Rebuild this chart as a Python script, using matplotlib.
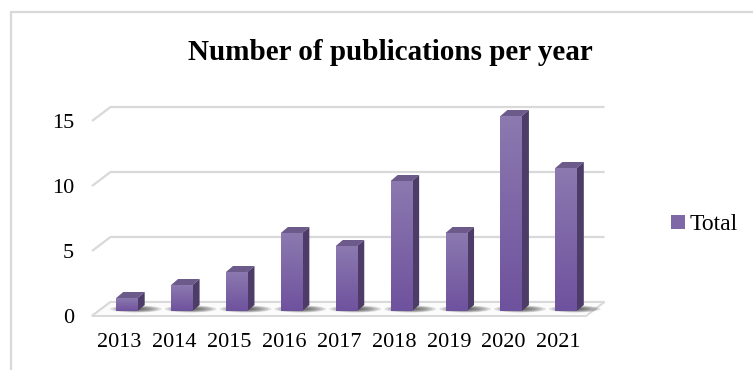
"""Number of publications per year - 3D-looking column chart."""
import numpy as np
import matplotlib
matplotlib.use("Agg")
import matplotlib.pyplot as plt
from matplotlib.patches import Polygon, Rectangle, Ellipse
from matplotlib.colors import LinearSegmentedColormap

years = ["2013", "2014", "2015", "2016", "2017", "2018", "2019", "2020", "2021"]
total = [1, 2, 3, 6, 5, 10, 6, 15, 11]
y_ticks = [0, 5, 10, 15]
series_name = "Total"
title = "Number of publications per year"

plt.rcParams['font.family'] = ['Liberation Serif', 'DejaVu Serif']

W, H = 753, 370
fig = plt.figure(figsize=(W / 100, H / 100), dpi=100)
fig.patch.set_facecolor('white')

# front plane of the plot area (pixels)
left_px, bottom_px, width_px, height_px = 92, 316, 494, 195
ax = fig.add_axes([left_px / W, (H - bottom_px) / H, width_px / W, height_px / H])
ax.set_facecolor('none')

n = len(years)
ymax = y_ticks[-1]
px_x = width_px / n
px_y = height_px / ymax

# oblique offsets, converted from pixels to data units
back_dx, back_dy = 18.5 / px_x, 14 / px_y      # back wall
bar_dx, bar_dy = 7.5 / px_x, 5 / px_y          # bar front plane
dep_dx, dep_dy = 7 / px_x, 6 / px_y            # bar depth
bar_w = 21.5 / px_x

grid_col = '#d9d9d9'

# gridlines on the back wall with a short diagonal to the front
for v in y_ticks:
    ax.plot([-0.5, -0.5 + back_dx, n - 0.5 + back_dx], [v, v + back_dy, v + back_dy],
            color=grid_col, lw=1.6, clip_on=False, zorder=1, solid_capstyle='butt')

# floor
floor = Polygon([(-0.5, 0), (n - 0.5, 0), (n - 0.5 + back_dx, back_dy), (-0.5 + back_dx, back_dy)],
                closed=True, facecolor='#fbfbfb', edgecolor=grid_col, lw=1.4,
                clip_on=False, zorder=1.5)
ax.add_patch(floor)

idx = np.arange(n)
xs = idx + bar_dx

# soft shadows on the floor
for i in idx:
    cx = xs[i] + 0.16
    for k in range(7):
        ew = (bar_w + 30 / px_x) * (1 - k * 0.12)
        eh = (7 / px_y) * (1 - k * 0.12)
        ax.add_patch(Ellipse((cx, bar_dy + 2 / px_y), ew, eh, facecolor='#2a2a2a',
                             edgecolor='none', alpha=0.14, clip_on=False, zorder=2))

# front faces
bars = ax.bar(xs, total, width=bar_w, bottom=bar_dy, color='#7f68a8',
              label=series_name, clip_on=False, zorder=4, linewidth=0)

cmap = LinearSegmentedColormap.from_list('face', ['#6f529e', '#8b79af'])
grad = np.linspace(0, 1, 64).reshape(-1, 1)
for rect, v in zip(bars, total):
    x0 = rect.get_x()
    x1 = x0 + rect.get_width()
    y0 = rect.get_y()
    y1 = y0 + v
    im = ax.imshow(grad, extent=[x0, x1, y0, y1], origin='lower', cmap=cmap,
                   aspect='auto', zorder=4.5, interpolation='bicubic')
    im.set_clip_path(rect)
    im.set_clip_on(True)
    top = Polygon([(x0, y1), (x1, y1), (x1 + dep_dx, y1 + dep_dy), (x0 + dep_dx, y1 + dep_dy)],
                  closed=True, facecolor='#6c5a8b', edgecolor='none', clip_on=False, zorder=3)
    side = Polygon([(x1, y0), (x1 + dep_dx, y0 + dep_dy), (x1 + dep_dx, y1 + dep_dy), (x1, y1)],
                   closed=True, facecolor='#4d3b68', edgecolor='none', clip_on=False, zorder=3)
    ax.add_patch(top)
    ax.add_patch(side)

ax.set_xlim(-0.5, n - 0.5)
ax.set_ylim(0, ymax)
ax.set_xticks(idx)
ax.set_xticklabels(years)
ax.set_yticks(y_ticks)
ax.tick_params(axis='both', length=0, labelsize=16, colors='black')
ax.tick_params(axis='y', pad=13)
ax.tick_params(axis='x', pad=12)
for s in ax.spines.values():
    s.set_visible(False)

fig.text(390 / W, (H - 60) / H, title, ha='center', va='baseline',
         fontsize=21, fontweight='bold')

ax.legend(loc='center left', bbox_to_anchor=(671 / W, 1 - 224.5 / H),
          bbox_transform=fig.transFigure, frameon=False, fontsize=17,
          handlelength=0.6, handleheight=0.55, handletextpad=0.2,
          borderpad=0, borderaxespad=0)

# chart area border (continues past the right and bottom edges)
fig.add_artist(Rectangle((10.5 / W, -0.1), 2, (H - 12) / H + 0.1, transform=fig.transFigure,
                         fill=False, edgecolor='#d9d9d9', lw=1.6))

fig.savefig('out.png', dpi=100)
